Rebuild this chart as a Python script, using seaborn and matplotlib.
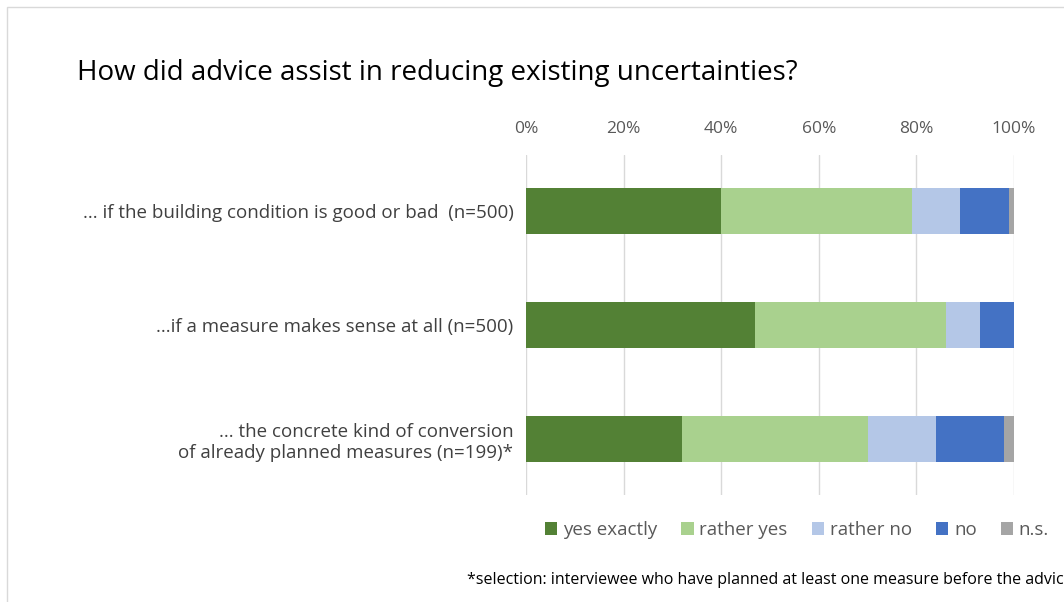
"""
advice_uncertainty_stackedbar.py

Stacked horizontal bars: how advice helped reduce existing uncertainties.
"""

import pandas as pd
import matplotlib.pyplot as plt
import seaborn as sns
from matplotlib.patches import Patch, Rectangle

OUTPUT_FILEPATH = "out.png"

# Data (percent of respondents)
QUESTIONS = [
    "... if the building condition is good or bad  (n=500)",
    "...if a measure makes sense at all (n=500)",
    "... the concrete kind of conversion\nof already planned measures (n=199)*",
]
ANSWERS = ["yes exactly", "rather yes", "rather no", "no", "n.s."]
YES_EXACTLY = [40, 47, 32]
RATHER_YES = [39, 39, 38]
RATHER_NO = [10, 7, 14]
NO = [10, 7, 14]
NOT_SPECIFIED = [1, 0, 2]
X_TICKS = [0, 20, 40, 60, 80, 100]

COLORS = ["#538135", "#a9d18e", "#b4c7e7", "#4472c4", "#a5a5a5"]

TITLE = "How did advice assist in reducing existing uncertainties?"
FOOTNOTE = "*selection: interviewee who have planned at least one measure before the advice"

# Figure settings
sns.set_style("white")
plt.rcParams["font.family"] = ["Open Sans", "DejaVu Sans"]
TEXT_COLOR = "#404040"
TICK_COLOR = "#595959"


def main():
    df = pd.DataFrame(
        {
            "question": QUESTIONS,
            "yes exactly": YES_EXACTLY,
            "rather yes": RATHER_YES,
            "rather no": RATHER_NO,
            "no": NO,
            "n.s.": NOT_SPECIFIED,
        }
    )
    # cumulative totals so that bars can be overlaid from the longest one down
    cum = df[ANSWERS].cumsum(axis=1)
    cum["question"] = df["question"]

    fig = plt.figure(figsize=(10.64, 6.02), dpi=100)
    ax = fig.add_axes([526 / 1064, 1 - 495 / 602, 488 / 1064, 340 / 602])

    for answer, color in reversed(list(zip(ANSWERS, COLORS))):
        sns.barplot(
            data=cum,
            x=answer,
            y="question",
            orient="h",
            color=color,
            width=0.41,
            saturation=1,
            linewidth=0,
            ax=ax,
        )

    ax.set_xlim(0, 100)
    ax.set_ylim(2.49, -0.49)
    ax.set_xticks(X_TICKS)
    ax.set_xticklabels([f"{t}%" for t in X_TICKS])
    ax.xaxis.tick_top()
    ax.set_xlabel(None)
    ax.set_ylabel(None)
    ax.tick_params(axis="x", length=0, pad=13, labelsize=12.5, labelcolor=TICK_COLOR)
    ax.tick_params(axis="y", length=0, pad=9, labelsize=13.5, labelcolor=TEXT_COLOR)
    for lbl in ax.get_yticklabels():
        lbl.set_horizontalalignment("right")
        lbl.set_multialignment("right")
        lbl.set_linespacing(1.2)
    ax.grid(axis="x", color="#d9d9d9", linewidth=1)
    ax.set_axisbelow(True)
    for spine in ax.spines.values():
        spine.set_visible(False)

    # chart area border (cut off at the right and bottom in the original)
    fig.patches.append(
        Rectangle(
            (7 / 1064, -0.1), 1.2, 1.1 - 7 / 602,
            transform=fig.transFigure, fill=False, edgecolor="#d9d9d9", linewidth=1,
        )
    )

    fig.text(77 / 1064, 1 - 73 / 602, TITLE, fontsize=20, color="black", va="center")

    handles = [Patch(facecolor=c, edgecolor="none") for c in COLORS]
    fig.legend(
        handles,
        ANSWERS,
        loc="center left",
        bbox_to_anchor=(528 / 1064, 1 - 530 / 602),
        ncol=5,
        frameon=False,
        fontsize=13.5,
        labelcolor=TICK_COLOR,
        handlelength=0.65,
        handleheight=0.65,
        handletextpad=0.3,
        columnspacing=1.3,
    )

    fig.text(467 / 1064, 1 - 580 / 602, FOOTNOTE, fontsize=11.5, color="black", va="center")

    fig.savefig(OUTPUT_FILEPATH, dpi=100)


if __name__ == "__main__":
    main()
